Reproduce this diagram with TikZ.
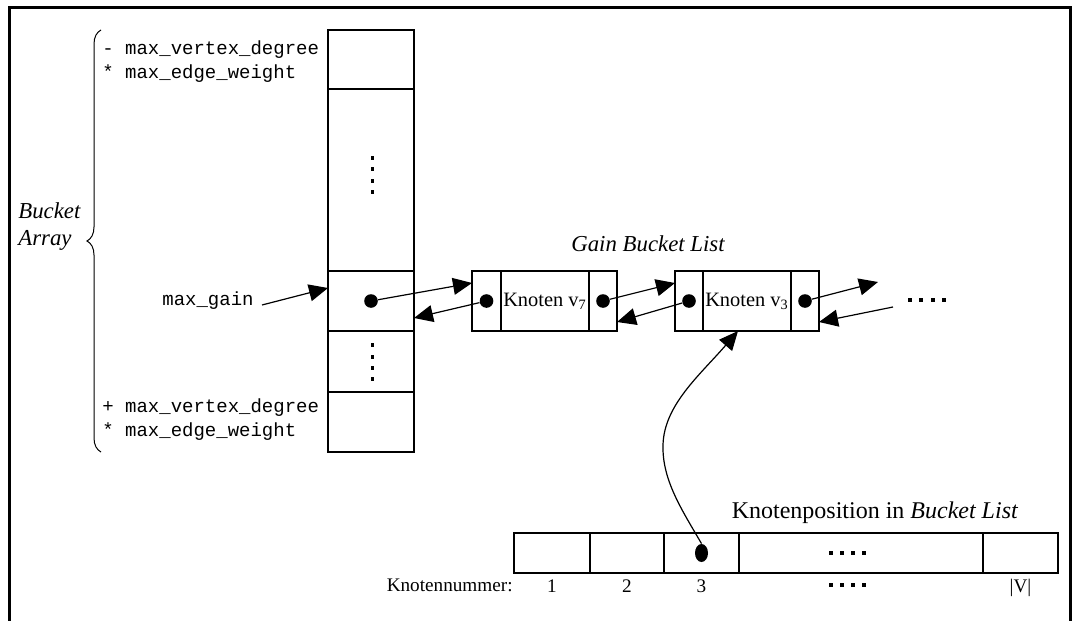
\documentclass[tikz,border=0pt]{standalone}
\usepackage{fontspec}
\setmainfont{Liberation Serif}
\setmonofont{Liberation Mono}
\usetikzlibrary{positioning,arrows.meta,shapes.geometric,decorations.pathreplacing}

\begin{document}
\begin{tikzpicture}[x=0.5pt,y=-0.5pt]

	\tikzstyle{mycell}=[draw,line width=0.6pt,inner sep=0pt,outer sep=0pt]
	\tikzstyle{mydot}=[circle,fill,inner sep=0pt,minimum size=6.8pt]
	\tikzstyle{myarrow}=[line width=0.6pt,-{Triangle[length=9.5pt,width=8.5pt]}]
	\tikzstyle{mytt}=[font=\ttfamily\fontsize{9.5}{11}\selectfont,inner sep=0pt]
	\tikzstyle{myrm}=[font=\fontsize{9.6}{11}\selectfont,inner sep=0pt]
	\tikzstyle{myit}=[font=\itshape\fontsize{11.4}{13}\selectfont,inner sep=0pt]

	\useasboundingbox (0,0) rectangle (1072,621);
	\draw[line width=1.5pt] (9,621) -- (9,7) -- (1070,7) -- (1070,621);

	% bucket array
	\node[mycell,minimum width=43pt,minimum height=29.5pt] (c1) at (371,59.5) {};
	\node[mycell,minimum width=43pt,minimum height=91pt,below=0pt of c1] (c2) {};
	\node[mycell,minimum width=43pt,minimum height=30pt,below=0pt of c2] (c3) {};
	\node[mycell,minimum width=43pt,minimum height=30.5pt,below=0pt of c3] (c4) {};
	\node[mycell,minimum width=43pt,minimum height=30pt,below=0pt of c4] (c5) {};
	\foreach \y in {158,169,181,192,345,357,368,379}{ \fill (370.5,{\y-2}) rectangle +(3,4);}
	\node[mydot] (d0) at (c3) {};

	\draw[line width=0.5pt,decorate,decoration={brace,amplitude=7pt}] (101,452) -- (101,30);
	\node[myit,anchor=west] (bucket) at (18,211) {Bucket};
	\node[myit,anchor=west] (array) at (18,240) {Array};

	\node[mytt,anchor=west] (top1) at (102,50) {- max\_vertex\_degree};
	\node[mytt,anchor=west] (top2) at (102,74) {* max\_edge\_weight};
	\node[mytt,anchor=west] (bot1) at (102,408) {+ max\_vertex\_degree};
	\node[mytt,anchor=west] (bot2) at (102,432) {* max\_edge\_weight};

	\node[mytt,anchor=east] (maxgain) at (254,301) {max\_gain};
	\draw[myarrow] ([shift={(8,4)}]maxgain.east) -- ([shift={(0,-13)}]c3.west);

	% gain bucket list
	\node[myit] (title) at (648,244) {Gain Bucket List};

	\node[mycell,minimum width=14.5pt,minimum height=30pt] (v7l) at (486.5,301) {};
	\node[mycell,minimum width=44pt,minimum height=30pt,right=0pt of v7l,myrm,font=\fontsize{10.2}{12}\selectfont] (v7m) {Knoten v\textsubscript{7}};
	\node[mycell,minimum width=14pt,minimum height=30pt,right=0pt of v7m] (v7r) {};

	\node[mycell,minimum width=14pt,minimum height=30pt] (v3l) at (689,301) {};
	\node[mycell,minimum width=44pt,minimum height=30pt,right=0pt of v3l,myrm,font=\fontsize{10.2}{12}\selectfont] (v3m) {Knoten v\textsubscript{3}};
	\node[mycell,minimum width=14pt,minimum height=30pt,right=0pt of v3m] (v3r) {};

	\node[mydot] (d1) at (v7l) {};
	\node[mydot] (d2) at (v7r) {};
	\node[mydot] (d3) at (v3l) {};
	\node[mydot] (d4) at (v3r) {};

	\coordinate (nxt) at (878,282);
	\coordinate (prv) at (893,307);
	\foreach \x in {910,921,933,944}{ \fill ({\x-2},298) rectangle +(4,4);}

	\draw[myarrow] (d0) -- ([shift={(0,-18)}]v7l.west);
	\draw[myarrow] (d1) -- ([shift={(0,17)}]c3.east);
	\draw[myarrow] (d2) -- ([shift={(0,-18)}]v3l.west);
	\draw[myarrow] (d3) -- ([shift={(0,21)}]v7r.east);
	\draw[myarrow] (d4) -- (nxt);
	\draw[myarrow] (prv) -- ([shift={(0,21)}]v3r.east);

	% knotenposition
	\node[font=\fontsize{12}{14}\selectfont,inner sep=0pt] (postitle) at (875,513) {Knotenposition in \textit{Bucket List}};

	\node[mycell,minimum width=38pt,minimum height=20pt] (b1) at (552,553) {};
	\node[mycell,minimum width=37pt,minimum height=20pt,right=0pt of b1] (b2) {};
	\node[mycell,minimum width=37.5pt,minimum height=20pt,right=0pt of b2] (b3) {};
	\node[mycell,minimum width=122pt,minimum height=20pt,right=0pt of b3] (b4) {};
	\node[mycell,minimum width=37.5pt,minimum height=20pt,right=0pt of b4] (b5) {};
	\foreach \x in {831,842,853,864}{ \fill ({\x-2},551) rectangle +(4,4); \fill ({\x-2},583) rectangle +(4,4);}

	\node[ellipse,fill,inner sep=0pt,minimum width=6.5pt,minimum height=9pt] (db) at (b3) {};

	\node[myrm,anchor=east] (nummer) at (513,585) {Knotennummer:};
	\node[myrm,below=3pt of b1] (n1) {1};
	\node[myrm,below=3pt of b2] (n2) {2};
	\node[myrm,below=3pt of b3] (n3) {3};
	\node[myrm,below=3pt of b5] (nv) {|V|};

	\draw[myarrow] (db.north) .. controls (682,510) and (662,480) .. (663,445)
		.. controls (664,405) and (700,375) .. ([shift={(-9,0)}]v3m.south);
\end{tikzpicture}
\end{document}
